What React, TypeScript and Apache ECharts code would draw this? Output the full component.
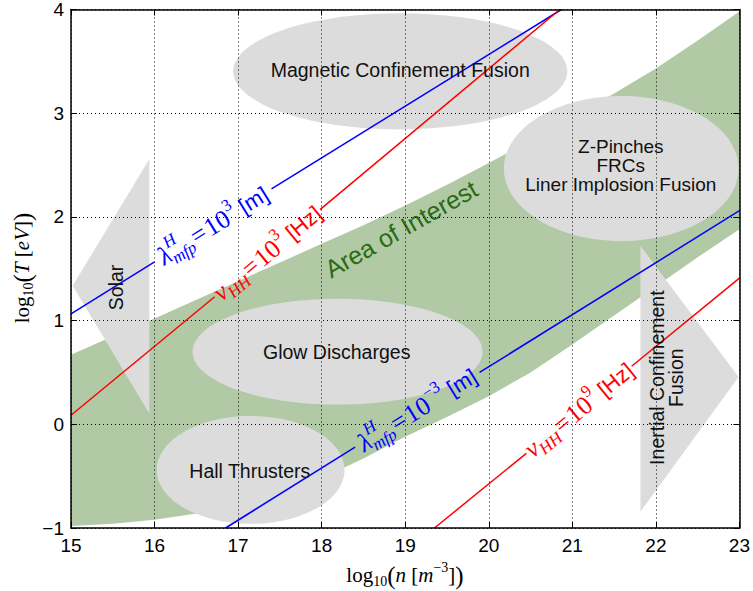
import React, { useEffect, useRef } from 'react';
import * as echarts from 'echarts';

// ---------- data ----------
const xTicks = [15, 16, 17, 18, 19, 20, 21, 22, 23];
const yTicks = [-1, 0, 1, 2, 3, 4];

// "Area of Interest" band edges
const bandUpperX = [15, 15.5, 16, 16.5, 17, 17.5, 18, 18.5, 19, 19.5, 20, 20.5, 21, 21.5, 22, 22.5, 23];
const bandUpperY = [0.67, 0.85, 1.02, 1.2, 1.38, 1.56, 1.74, 1.92, 2.11, 2.31, 2.52, 2.74, 2.96, 3.19, 3.43, 3.7, 3.98];
const bandLowerX = [15, 15.5, 16, 16.5, 17, 17.5, 18, 18.5, 19, 19.5, 20, 20.5, 21, 21.5, 22, 22.5, 23];
const bandLowerY = [-0.98, -0.96, -0.92, -0.86, -0.78, -0.67, -0.52, -0.33, -0.12, 0.07, 0.27, 0.5, 0.77, 1.05, 1.33, 1.61, 1.88];

// regimes drawn as ellipses
const ellipseNames = ['Magnetic Confinement Fusion', 'Z-Pinches\nFRCs\nLiner Implosion Fusion', 'Glow Discharges', 'Hall Thrusters'];
const ellipseCenters = [[18.94, 3.404], [21.585, 2.466], [18.19, 0.7], [17.15, -0.44]];
const ellipseRadii = [[2.0, 0.56], [1.405, 0.7], [1.735, 0.51], [1.124, 0.52]];

// regimes drawn as arrows (triangles)
const arrowNames = ['Solar', 'Inertial Confinement\nFusion'];
const solarArrow = [[15.937, 2.555], [15.02, 1.337], [15.937, 0.103]];
const icfArrow = [[21.815, 1.721], [22.99, 0.455], [21.815, -0.843]];

// constant mean free path / collision frequency lines (two segments each, gap for label)
const lambdaE3 = [[[15, 1.064], [16.0, 1.566]], [[17.4, 2.27], [20.87, 4.0]]];
const nuE3 = [[[15, 0.087], [16.72, 1.23]], [[17.98, 2.07], [20.85, 4.0]]];
const lambdaEm3 = [[[16.85, -1], [18.4, -0.22]], [[19.89, 0.5], [23, 2.06]]];
const nuE9 = [[[19.35, -1], [20.45, -0.28]], [[21.71, 0.56], [23, 1.41]]];

// ---------- styling ----------
const SERIF = '"Liberation Serif", "DejaVu Serif", serif';
const SANS = '"Liberation Sans", Arial, sans-serif';
const GRAY = '#dcdcdc';
const BAND = '#b1caa5';
const BLUE = '#0000ff';
const RED = '#ff0000';

type Piece = { t: string; s: number; it?: boolean; sans?: boolean; dy?: number; adv?: boolean; pad?: number };

let measureCtx: CanvasRenderingContext2D | null = null;
function fontStr(p: Piece) {
  return `${p.it ? 'italic ' : ''}${p.s}px ${p.sans ? SANS : SERIF}`;
}
function textWidth(p: Piece) {
  if (!measureCtx) measureCtx = document.createElement('canvas').getContext('2d');
  if (!measureCtx) return p.t.length * p.s * 0.5;
  measureCtx.font = fontStr(p);
  return measureCtx.measureText(p.t).width;
}
function buildPieces(pieces: Piece[], color: string) {
  let total = 0;
  const widths = pieces.map((p) => textWidth(p) + 2 * (p.pad || 0));
  pieces.forEach((p, i) => {
    if (p.adv !== false) total += widths[i];
  });
  let x = -total / 2;
  return pieces.map((p, i) => {
    const el = {
      type: 'text',
      x: x + (p.pad || 0),
      y: p.dy || 0,
      silent: true,
      style: {
        text: p.t,
        fill: color,
        fontSize: p.s,
        fontFamily: p.sans ? SANS : SERIF,
        fontStyle: p.it ? 'italic' : 'normal',
        align: 'left',
        textAlign: 'left',
        verticalAlign: 'middle',
        textVerticalAlign: 'middle',
      },
    };
    if (p.adv !== false) x += widths[i];
    return el;
  });
}

const lambdaPieces = (exp: string): Piece[] => [
  { t: 'λ', s: 26, it: true },
  { t: 'H', s: 17, it: true, dy: -10, adv: false },
  { t: 'mfp', s: 17, it: true, dy: 8 },
  { t: '=', s: 26, pad: 1.5 },
  { t: '10', s: 26 },
  { t: exp, s: 17, dy: -10 },
  { t: ' [m]', s: 22, sans: true },
];
const nuPieces = (exp: string): Piece[] => [
  { t: 'ν', s: 26, it: true },
  { t: 'HH', s: 17, it: true, dy: 8 },
  { t: '=', s: 26, pad: 1.5 },
  { t: '10', s: 26 },
  { t: exp, s: 17, dy: -10 },
  { t: ' [Hz]', s: 22, sans: true },
];

const lineDefs = [
  { segs: lambdaE3, color: BLUE, pieces: lambdaPieces('3') },
  { segs: nuE3, color: RED, pieces: nuPieces('3') },
  { segs: lambdaEm3, color: BLUE, pieces: lambdaPieces('−3') },
  { segs: nuE9, color: RED, pieces: nuPieces('9') },
];

const plainLabels = [
  { text: ellipseNames[0], at: [18.94, 3.42], rot: 0, size: 19.5, color: '#111', lh: 19 },
  { text: ellipseNames[1], at: [21.58, 2.5], rot: 0, size: 19, color: '#111', lh: 19 },
  { text: ellipseNames[2], at: [18.18, 0.7], rot: 0, size: 19.5, color: '#111', lh: 19 },
  { text: ellipseNames[3], at: [17.14, -0.45], rot: 0, size: 19.5, color: '#111', lh: 19 },
  { text: arrowNames[0], at: [15.54, 1.32], rot: 90, size: 19.5, color: '#111', lh: 19 },
  { text: arrowNames[1], at: [22.13, 0.45], rot: 90, size: 19.5, color: '#111', lh: 19 },
  { text: 'Area of Interest', at: [18.95, 1.885], rot: 29.6, size: 25, color: '#2a6a14', lh: 25 },
];

export default function App() {
  const ref = useRef<HTMLDivElement>(null);
  useEffect(() => {
    document.body.style.margin = '0';
    if (!ref.current) return;
    const chart = echarts.init(ref.current, null, { renderer: 'svg' });

    const axisLine = { show: true, onZero: false, lineStyle: { color: '#000', width: 1.5 } };
    const axisTick = { show: true, inside: true, length: 6, lineStyle: { color: '#000', width: 1 } };
    const split = { show: true, lineStyle: { color: '#000', width: 1, type: [1, 3] } };
    const fmt = (v: number) => (v < 0 ? '−' + Math.abs(v) : String(v));

    const lineSeries: any[] = [];
    lineDefs.forEach((d) => {
      d.segs.forEach((seg) => {
        lineSeries.push({
          type: 'line',
          data: seg,
          showSymbol: false,
          symbol: 'none',
          silent: true,
          z: 3,
          lineStyle: { color: d.color, width: 1.5 },
        });
      });
    });

    const polygons = [
      {
        pts: bandUpperX.map((x, i) => [x, bandUpperY[i]]).concat(
          bandLowerX.map((x, i) => [x, bandLowerY[i]]).reverse()
        ),
        fill: BAND,
        z: 1,
      },
      { pts: solarArrow, fill: GRAY, z: 2 },
      { pts: icfArrow, fill: GRAY, z: 2 },
    ];

    const option: any = {
      animation: false,
      grid: { left: 71, right: 13, top: 8, bottom: 63, containLabel: false },
      xAxis: [
        {
          type: 'value', min: xTicks[0], max: xTicks[xTicks.length - 1], interval: 1, position: 'bottom', z: 10,
          axisLine, axisTick,
          axisLabel: { color: '#000', fontSize: 19, fontFamily: SANS, margin: 8, formatter: fmt },
          splitLine: split,
        },
        {
          type: 'value', min: xTicks[0], max: xTicks[xTicks.length - 1], interval: 1, position: 'top', z: 10,
          axisLine, axisTick, axisLabel: { show: false }, splitLine: { show: false },
        },
      ],
      yAxis: [
        {
          type: 'value', min: yTicks[0], max: yTicks[yTicks.length - 1], interval: 1, position: 'left', z: 10,
          axisLine, axisTick,
          axisLabel: { color: '#000', fontSize: 19, fontFamily: SANS, margin: 7, formatter: fmt },
          splitLine: split,
        },
        {
          type: 'value', min: yTicks[0], max: yTicks[yTicks.length - 1], interval: 1, position: 'right', z: 10,
          axisLine, axisTick, axisLabel: { show: false }, splitLine: { show: false },
        },
      ],
      graphic: [
        {
          type: 'group', x: 405, y: 575, silent: true,
          children: buildPieces(
            [
              { t: 'log', s: 21 },
              { t: '10', s: 14, dy: 6 },
              { t: '(', s: 25 },
              { t: 'n', s: 21, it: true },
              { t: ' [', s: 21 },
              { t: 'm', s: 21, it: true },
              { t: '−3', s: 14, dy: -8 },
              { t: ']', s: 21 },
              { t: ')', s: 25 },
            ],
            '#000'
          ),
        },
        {
          type: 'group', x: 22, y: 268, rotation: Math.PI / 2, silent: true,
          children: buildPieces(
            [
              { t: 'log', s: 21 },
              { t: '10', s: 14, dy: 6 },
              { t: '(', s: 25 },
              { t: 'T', s: 21, it: true },
              { t: ' [', s: 21 },
              { t: 'eV', s: 21, it: true },
              { t: ']', s: 21 },
              { t: ')', s: 25 },
            ],
            '#000'
          ),
        },
      ],
      series: [
        {
          type: 'custom',
          silent: true,
          z: 1,
          data: polygons.map((p, i) => [p.pts[0][0], p.pts[0][1], i]),
          renderItem: (params: any, api: any) => {
            const p = polygons[params.dataIndex];
            return {
              type: 'polygon',
              z2: p.z,
              shape: { points: p.pts.map((q) => api.coord(q)) },
              style: { fill: p.fill },
            };
          },
        },
        {
          type: 'custom',
          silent: true,
          z: 2,
          data: ellipseCenters.map((c, i) => [c[0], c[1], ellipseRadii[i][0], ellipseRadii[i][1]]),
          renderItem: (params: any, api: any) => {
            const c = api.coord([api.value(0), api.value(1)]);
            const s = api.size([api.value(2), api.value(3)]);
            return { type: 'ellipse', shape: { cx: c[0], cy: c[1], rx: s[0], ry: s[1] }, style: { fill: GRAY } };
          },
        },
        ...lineSeries,
        {
          type: 'custom',
          silent: true,
          z: 4,
          data: plainLabels.map((l, i) => [l.at[0], l.at[1], i]),
          renderItem: (params: any, api: any) => {
            const l = plainLabels[params.dataIndex];
            const c = api.coord([api.value(0), api.value(1)]);
            return {
              type: 'text',
              x: c[0],
              y: c[1],
              rotation: (l.rot * Math.PI) / 180,
              style: {
                text: l.text,
                fill: l.color,
                fontSize: l.size,
                fontFamily: SANS,
                lineHeight: l.lh,
                align: 'center',
                textAlign: 'center',
                verticalAlign: 'middle',
                textVerticalAlign: 'middle',
              },
            };
          },
        },
        {
          type: 'custom',
          silent: true,
          z: 4,
          data: lineDefs.map((d, i) => {
            const a = d.segs[0][1];
            const b = d.segs[1][0];
            return [(a[0] + b[0]) / 2, (a[1] + b[1]) / 2, i];
          }),
          renderItem: (params: any, api: any) => {
            const d = lineDefs[params.dataIndex];
            const c = api.coord([api.value(0), api.value(1)]);
            const p1 = api.coord(d.segs[0][0]);
            const p2 = api.coord(d.segs[1][1]);
            const ang = -Math.atan2(p2[1] - p1[1], p2[0] - p1[0]);
            return {
              type: 'group',
              x: c[0],
              y: c[1],
              rotation: ang,
              children: buildPieces(d.pieces, d.color),
            };
          },
        },
      ],
    };
    chart.setOption(option);
    return () => chart.dispose();
  }, []);
  return <div ref={ref} style={{ width: 753, height: 591 }} />;
}
